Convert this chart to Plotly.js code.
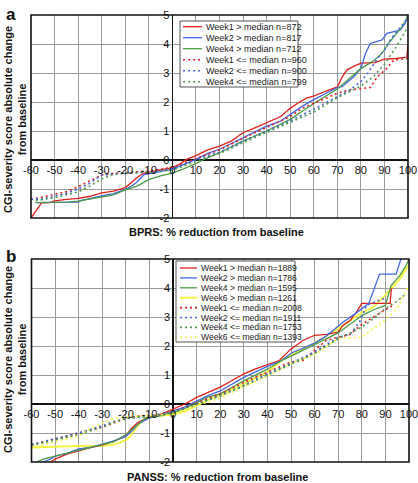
<!DOCTYPE html>
<html><head><meta charset="utf-8">
<script src="https://cdn.plot.ly/plotly-3.0.1.min.js"></script>
<style>html,body{margin:0;padding:0;background:#fff;}#chart{width:418px;height:483px;}</style>
</head><body><div id="chart"></div>
<script>
// ---------- Panel a (BPRS) ----------
const aNames = ["Week1 > median n=872","Week2 > median n=817","Week4 > median n=712",
                "Week1 <= median n=960","Week2 <= median n=900","Week4 <= median n=799"];
const aX_w1g = [-60,-58,-55.5,-52,-50,-45,-40,-35,-30,-25,-20,-17,-15,-12,-8,-5,0,3,6,10,15,20,25,30,35,40,46,50,53,57,60,65,70,72,74,77,80,86,90,95,99.5,100];
const aY_w1g = [-2.0,-1.75,-1.48,-1.47,-1.41,-1.36,-1.32,-1.25,-1.13,-1.07,-0.95,-0.75,-0.6,-0.45,-0.4,-0.34,-0.26,-0.15,0.02,0.15,0.35,0.48,0.65,0.94,1.11,1.3,1.5,1.78,1.95,2.14,2.2,2.37,2.52,2.85,3.1,3.23,3.34,3.36,3.48,3.5,3.55,4.0];
const aX_w2g = [-58,-50,-42,-40,-38,-35,-30,-25,-20,-17,-15,-12,-8,-5,0,5,10,15,20,25,30,35,40,46,50,55,60,65,70,72,77,80,82,84,89,91,96.6,98.8,100];
const aY_w2g = [-1.47,-1.47,-1.47,-1.45,-1.38,-1.32,-1.24,-1.16,-1.01,-0.88,-0.76,-0.5,-0.44,-0.38,-0.32,-0.15,0.02,0.23,0.37,0.57,0.77,0.97,1.17,1.34,1.57,1.85,2.08,2.3,2.5,2.53,2.87,3.16,3.68,4.02,4.14,4.37,4.48,4.71,5.0];
const aX_w4g = [-58,-50,-45,-40,-35,-30,-25,-20,-15,-10,-5,0,5,10,15,20,30,40,50,60,65,70,75,80,85,88,90,92,95,97,99,100];
const aY_w4g = [-1.47,-1.47,-1.45,-1.42,-1.35,-1.28,-1.2,-1.03,-0.9,-0.68,-0.55,-0.45,-0.3,-0.12,0.08,0.25,0.65,1.0,1.4,1.95,2.2,2.45,2.8,3.15,3.4,3.6,3.8,4.05,4.35,4.55,4.8,5.0];
const aX_w1l = [-60,-55,-50,-45,-40,-35,-30,-25,-20,-15,-10,-5,0,5,10,15,20,30,40,50,55,60,65,70,75,78,84,87,91,94,100];
const aY_w1l = [-1.35,-1.28,-1.18,-1.1,-0.92,-0.72,-0.52,-0.46,-0.43,-0.4,-0.38,-0.32,-0.25,-0.1,0.05,0.22,0.35,0.75,1.12,1.5,1.78,1.95,2.12,2.3,2.42,2.45,2.5,2.87,3.16,3.45,3.5];
const aX_w2l = [-60,-55,-50,-45,-40,-35,-30,-25,-20,-10,-5,0,5,10,15,20,30,40,50,60,70,75,80,83,87,90,93,96,100];
const aY_w2l = [-1.35,-1.35,-1.25,-1.15,-1.0,-0.8,-0.52,-0.48,-0.45,-0.42,-0.35,-0.3,-0.15,0.0,0.15,0.27,0.65,1.0,1.35,1.75,2.2,2.4,2.7,3.0,3.5,3.8,4.2,4.5,4.9];
const aX_w4l = [-58,-50,-45,-40,-35,-30,-25,-20,-10,0,5,10,15,20,30,40,50,60,70,80,85,90,95,100];
const aY_w4l = [-1.4,-1.3,-1.2,-1.1,-0.9,-0.65,-0.5,-0.45,-0.42,-0.35,-0.2,-0.05,0.1,0.22,0.6,0.95,1.3,1.65,2.15,2.55,2.85,3.3,3.9,4.6];

// ---------- Panel b (PANSS) ----------
const bNames = ["Week1 > median n=1889","Week2 > median n=1786","Week4 > median n=1595","Week6 > median n=1261",
                "Week1 <= median n=2008","Week2 <= median n=1911","Week4 <= median n=1753","Week6 <= median n=1393"];
const bX_w1g = [-52,-50,-45,-40,-35,-30,-25,-20,-18,-15,-12,-10,-5,0,5,10,15,20,25,30,35,40,45,50,55,60,65,70,72,75,78,80,85,92,92.5,93];
const bY_w1g = [-2,-1.9,-1.73,-1.62,-1.5,-1.42,-1.28,-1.1,-0.87,-0.64,-0.52,-0.46,-0.35,-0.17,0.0,0.23,0.4,0.58,0.81,1.04,1.21,1.35,1.5,1.9,2.19,2.37,2.4,2.48,2.71,2.88,3.2,3.47,3.47,3.47,3.97,3.97];
const bX_w2g = [-55,-52,-50,-45,-40,-35,-30,-25,-20,-17,-15,-10,-5,0,5,10,15,20,30,40,46,50,60,65,70,72,77,83,87.5,94.5,96.6];
const bY_w2g = [-2,-1.9,-1.8,-1.7,-1.55,-1.5,-1.38,-1.27,-1.12,-0.9,-0.7,-0.48,-0.38,-0.25,-0.1,0.1,0.3,0.45,0.92,1.3,1.5,1.75,2.1,2.35,2.7,2.82,3.1,3.47,4.48,4.48,5.0];
const bX_w4g = [-58,-55,-50,-45,-40,-35,-30,-25,-20,-17,-15,-12,-10,-5,0,5,10,15,20,30,40,46,50,60,70,80,85,90,92.4,96,98.7,100];
const bY_w4g = [-2,-1.9,-1.8,-1.7,-1.6,-1.5,-1.42,-1.3,-1.05,-0.85,-0.72,-0.5,-0.47,-0.4,-0.3,-0.15,0.05,0.25,0.35,0.8,1.2,1.5,1.65,2.05,2.45,3.05,3.25,3.4,4.08,4.42,4.77,5.0];
const bX_w6g = [-60,-50,-40,-30,-25,-20,-18,-15,-12,-10,-5,0,5,10,15,20,30,40,46,50,60,70,80,85,91,96,98.7,100];
const bY_w6g = [-1.5,-1.47,-1.45,-1.45,-1.4,-1.25,-1.1,-0.75,-0.5,-0.45,-0.4,-0.35,-0.25,-0.05,0.15,0.3,0.7,1.1,1.5,1.7,2.1,2.6,3.15,3.35,3.85,4.3,4.65,4.8];
const bX_w1l = [-60,-55,-50,-45,-40,-35,-30,-25,-20,-15,-10,-5,0,5,10,15,20,30,40,50,55,60,65,70,75,80,86,93];
const bY_w1l = [-1.4,-1.3,-1.2,-1.1,-1.0,-0.9,-0.8,-0.65,-0.5,-0.42,-0.4,-0.35,-0.25,-0.12,0.05,0.2,0.35,0.75,1.1,1.45,1.5,1.85,2.2,2.3,2.4,2.75,3.05,3.4];
const bX_w2l = [-60,-50,-40,-30,-25,-20,-15,-10,0,5,10,15,20,30,40,50,60,70,75,79,82,85,90];
const bY_w2l = [-1.4,-1.2,-1.0,-0.75,-0.6,-0.5,-0.45,-0.42,-0.28,-0.15,0.0,0.15,0.3,0.65,1.05,1.4,1.8,2.3,2.4,2.82,3.4,3.5,3.65];
const bX_w4l = [-60,-50,-40,-30,-25,-20,-15,-10,0,10,20,30,40,50,60,70,80,85,90,95,98];
const bY_w4l = [-1.42,-1.25,-1.05,-0.8,-0.62,-0.5,-0.45,-0.42,-0.3,-0.02,0.28,0.62,1.0,1.38,1.75,2.25,2.65,2.95,3.3,3.55,3.75];
const bX_w6l = [-60,-50,-40,-35,-30,-25,-20,-15,0,10,20,30,40,50,60,70,80,90,95,98.7,100];
const bY_w6l = [-1.5,-1.3,-1.1,-0.85,-0.65,-0.5,-0.45,-0.42,-0.35,-0.05,0.2,0.6,0.95,1.4,1.7,2.25,2.3,2.9,3.3,3.9,4.1];

const xTicks = [-60,-50,-40,-30,-20,-10,0,10,20,30,40,50,60,70,80,90,100];
const yTicks = [-2,-1,0,1,2,3,4,5];

// ---------- styling ----------
const W = 418, H = 483;
const RED = "#e0201c", BLUE = "#4466e6", GREEN = "#4c9a48", YELLOW = "#f4f442";
const DOT = "2px,3px";
const FONT = "Liberation Sans, Arial, sans-serif";
const fx = p => p / W, fy = p => 1 - p / H;

const A = {l:31, r:408, t:15, b:218};
const B = {l:31.5, r:409, t:259, b:462};

function line(x, y, color, dashed, xa, ya, name, width) {
  return {x:x, y:y, type:"scatter", mode:"lines", name:name, showlegend:false,
    xaxis:xa, yaxis:ya, hoverinfo:"skip",
    line:{color:color, width: width || (dashed ? 1.6 : 1.3), dash: dashed ? DOT : "solid"}};
}

const traces = [
  line(aX_w1g, aY_w1g, RED, false, "x", "y", aNames[0]),
  line(aX_w2g, aY_w2g, BLUE, false, "x", "y", aNames[1]),
  line(aX_w4g, aY_w4g, GREEN, false, "x", "y", aNames[2]),
  line(aX_w1l, aY_w1l, RED, true, "x", "y", aNames[3]),
  line(aX_w2l, aY_w2l, BLUE, true, "x", "y", aNames[4]),
  line(aX_w4l, aY_w4l, GREEN, true, "x", "y", aNames[5]),
  line(bX_w6g, bY_w6g, YELLOW, false, "x2", "y2", bNames[3], 2),
  line(bX_w1g, bY_w1g, RED, false, "x2", "y2", bNames[0]),
  line(bX_w2g, bY_w2g, BLUE, false, "x2", "y2", bNames[1]),
  line(bX_w4g, bY_w4g, GREEN, false, "x2", "y2", bNames[2]),
  line(bX_w1l, bY_w1l, RED, true, "x2", "y2", bNames[4]),
  line(bX_w2l, bY_w2l, BLUE, true, "x2", "y2", bNames[5]),
  line(bX_w4l, bY_w4l, GREEN, true, "x2", "y2", bNames[6]),
  line(bX_w6l, bY_w6l, YELLOW, true, "x2", "y2", bNames[7]),
];

function xax(P, posY) {
  return {domain:[fx(P.l), fx(P.r)], range:[-60,100], tickvals:xTicks, ticktext:xTicks.map(String),
    anchor:"free", position:posY, showgrid:true, gridcolor:"#9a9a9a", gridwidth:1,
    zeroline:true, zerolinecolor:"#111", zerolinewidth:1.5, showline:false, ticks:"",
    ticklabeloverflow:"allow", ticklabelstandoff:2,
    tickfont:{family:FONT, size:11, color:"#111"}, fixedrange:true};
}
function yax(P, posX) {
  return {domain:[fy(P.b), fy(P.t)], range:[-2,5], tickvals:yTicks, ticktext:yTicks.map(String),
    anchor:"free", position:posX, showgrid:true, gridcolor:"#9a9a9a", gridwidth:1,
    zeroline:true, zerolinecolor:"#111", zerolinewidth:1.5, showline:false, ticks:"",
    ticklabeloverflow:"allow", ticklabelstandoff:3,
    tickfont:{family:FONT, size:11, color:"#111"}, fixedrange:true};
}
const zeroYa = fy(A.t + (A.b - A.t) * 5 / 7);
const zeroYb = fy(B.t + (B.b - B.t) * 5 / 7);
const zeroXa = fx(A.l + (A.r - A.l) * 60 / 160);
const zeroXb = fx(B.l + (B.r - B.l) * 60 / 160);

const shapes = [
  {type:"rect", xref:"paper", yref:"paper", x0:fx(A.l), x1:fx(A.r), y0:fy(A.b), y1:fy(A.t), line:{color:"#111", width:1.6}},
  {type:"rect", xref:"paper", yref:"paper", x0:fx(B.l), x1:fx(B.r), y0:fy(B.b), y1:fy(B.t), line:{color:"#111", width:1.6}},
];
const annotations = [
  {text:"<b>a</b>", x:fx(4), y:fy(3), xref:"paper", yref:"paper", xanchor:"left", yanchor:"top", showarrow:false, font:{family:FONT, size:17, color:"#111"}},
  {text:"<b>b</b>", x:fx(4), y:fy(245), xref:"paper", yref:"paper", xanchor:"left", yanchor:"top", showarrow:false, font:{family:FONT, size:17, color:"#111"}},
  {text:"<b>BPRS: % reduction from baseline</b>", x:fx(216), y:fy(232), xref:"paper", yref:"paper", xanchor:"center", yanchor:"middle", showarrow:false, font:{family:FONT, size:11, color:"#111"}},
  {text:"<b>PANSS: % reduction from baseline</b>", x:fx(218), y:fy(477), xref:"paper", yref:"paper", xanchor:"center", yanchor:"middle", showarrow:false, font:{family:FONT, size:11, color:"#111"}},
  {text:"<b>CGI-severity score absolute change<br>from baseline</b>", x:fx(15), y:fy(120), xref:"paper", yref:"paper", xanchor:"center", yanchor:"middle", textangle:-90, showarrow:false, font:{family:FONT, size:11, color:"#111"}},
  {text:"<b>CGI-severity score absolute change<br>from baseline</b>", x:fx(15), y:fy(360), xref:"paper", yref:"paper", xanchor:"center", yanchor:"middle", textangle:-90, showarrow:false, font:{family:FONT, size:11, color:"#111"}},
];

// compact legends like the original
function legend(box, names, styles, step, firstY, sx0, sx1, tx, fsize) {
  shapes.push({type:"rect", xref:"paper", yref:"paper", x0:fx(box[0]), x1:fx(box[1]), y0:fy(box[3]), y1:fy(box[2]),
    fillcolor:"#fff", line:{color:"#555", width:1}, layer:"above"});
  names.forEach((n, i) => {
    const yy = firstY + i * step;
    const s = styles[i];
    shapes.push({type:"line", xref:"paper", yref:"paper", x0:fx(sx0), x1:fx(sx1), y0:fy(yy), y1:fy(yy),
      line:{color:s[0], width:s[2] || (s[1] ? 1.6 : 1.3), dash:s[1] ? DOT : "solid"}, layer:"above"});
    annotations.push({text:n, x:fx(tx), y:fy(yy), xref:"paper", yref:"paper", xanchor:"left", yanchor:"middle",
      showarrow:false, font:{family:FONT, size:fsize, color:"#222"}});
  });
}
legend([180, 298, 21, 87], aNames,
  [[RED,false],[BLUE,false],[GREEN,false],[RED,true],[BLUE,true],[GREEN,true]], 11, 26.7, 183, 202, 204, 9);
legend([176, 295, 261, 342], bNames,
  [[RED,false],[BLUE,false],[GREEN,false],[YELLOW,false,2],[RED,true],[BLUE,true],[GREEN,true],[YELLOW,true]], 9.9, 268, 180, 197, 199, 8.6);

const layout = {
  width:W, height:H, margin:{l:0, r:0, t:0, b:0},
  paper_bgcolor:"#fff", plot_bgcolor:"#fff", showlegend:false,
  xaxis:xax(A, zeroYa), yaxis:yax(A, zeroXa),
  xaxis2:xax(B, zeroYb), yaxis2:yax(B, zeroXb),
  shapes:shapes, annotations:annotations,
};
Plotly.newPlot("chart", traces, layout, {staticPlot:true, displayModeBar:false});
</script></body></html>
